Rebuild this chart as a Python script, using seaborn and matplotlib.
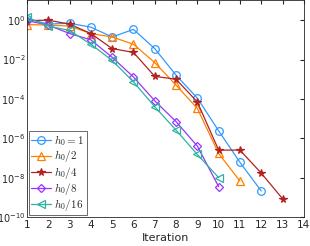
import numpy as np
import pandas as pd
import matplotlib
matplotlib.use("Agg")
import matplotlib.pyplot as plt
import seaborn as sns
from matplotlib.ticker import FixedLocator, FixedFormatter

labels = [r"$h_0=1$", r"$h_0/2$", r"$h_0/4$", r"$h_0/8$", r"$h_0/16$"]
err_h1 = [1.2, 0.63, 0.7, 0.44, 0.14, 0.34, 0.036, 1.6e-3, 1.1e-4, 2.4e-6, 6e-8, 2.1e-9]
err_h2 = [0.6, 0.56, 0.5, 0.21, 0.14, 0.06, 7e-3, 5e-4, 3.3e-5, 1.7e-7, 6.7e-9]
err_h4 = [0.95, 1.0, 0.63, 0.21, 0.036, 0.023, 1.4e-3, 1e-3, 7e-5, 2.5e-7, 2.5e-7, 1.7e-8, 8.5e-10]
err_h8 = [0.95, 0.56, 0.21, 0.1, 0.013, 1.3e-3, 8e-5, 7e-6, 4e-7, 3.5e-9]
err_h16 = [1.4, 0.5, 0.3, 0.06, 9e-3, 7.4e-4, 4e-5, 2.6e-6, 1.5e-7, 1e-8]
series = [err_h1, err_h2, err_h4, err_h8, err_h16]
xticks = list(range(1, 15))
yexps = [0, -2, -4, -6, -8, -10]

colors = ["#3399ff", "#ff8000", "#b22222", "#9933ff", "#2db3a0"]
markers = ["o", "^", "*", "D", "<"]

rows = []
for lab, vals in zip(labels, series):
    for i, v in enumerate(vals):
        rows.append({"Iteration": i + 1, "err": v, "method": lab})
df = pd.DataFrame(rows)

sns.set_style("white")
plt.rcParams["font.family"] = ["DejaVu Sans"]
plt.rcParams["mathtext.fontset"] = "cm"

fig = plt.figure(figsize=(3.1, 2.46), dpi=100)
ax = fig.add_axes([0.087, 0.118, 0.893, 0.88])

for lab, col, mk in zip(labels, colors, markers):
    sub = df[df["method"] == lab]
    filled = mk == "*"
    sns.lineplot(data=sub, x="Iteration", y="err", ax=ax, color=col, marker=mk,
                 markersize=5.5 if mk != "D" else 4.2,
                 markerfacecolor=col if filled else "none",
                 markeredgecolor=col, markeredgewidth=0.9, linewidth=0.9,
                 label=lab)

ax.set_yscale("log")
ax.set_xlim(1, 14)
ax.set_ylim(1e-10, 1e1)
ax.set_xticks(xticks)
ax.set_xticklabels([str(t) for t in xticks])
ax.yaxis.set_major_locator(FixedLocator([10.0 ** e for e in yexps]))
ax.yaxis.set_major_formatter(FixedFormatter([r"$\mathregular{10^{%d}}$" % e for e in yexps]))
ax.set_xlabel("Iteration", fontsize=8, labelpad=2)
ax.set_ylabel("")
ax.tick_params(axis="both", which="both", direction="in", top=True, right=True,
               labelsize=7.5, length=3, pad=2)
ax.tick_params(axis="y", pad=1, labelsize=7)
ax.tick_params(axis="y", which="minor", length=1.5)
for s in ax.spines.values():
    s.set_color("#262626")
    s.set_linewidth(0.6)

leg = ax.legend(loc="lower left", fontsize=8, frameon=True, fancybox=False,
                edgecolor="#262626", borderpad=0.2, labelspacing=0.02,
                handlelength=1.8, handletextpad=0.3, borderaxespad=0.15)
leg.get_frame().set_linewidth(0.6)

fig.savefig("out.png", dpi=100)
